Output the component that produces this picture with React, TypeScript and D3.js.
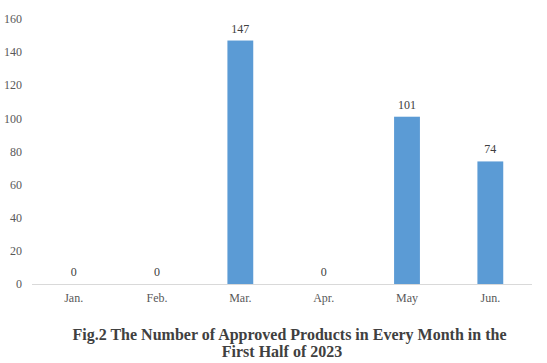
import React, { useRef, useEffect } from 'react';
import * as d3 from 'd3';

const months = ['Jan.', 'Feb.', 'Mar.', 'Apr.', 'May', 'Jun.'];
const approved = [0, 0, 147, 0, 101, 74];
const yTicks = [0, 20, 40, 60, 80, 100, 120, 140, 160];
const titleLines = [
  'Fig.2 The Number of Approved Products in Every Month in the',
  'First Half of 2023',
];

const width = 547;
const height = 363;

const App: React.FC = () => {
  const svgRef = useRef<SVGSVGElement>(null);

  useEffect(() => {
    if (!svgRef.current) return;
    const root = d3.select(svgRef.current);
    root.selectAll('*').remove();

    const margin = { top: 19, right: 15, bottom: 79, left: 32 };
    const innerWidth = width - margin.left - margin.right;
    const innerHeight = height - margin.top - margin.bottom;
    const font = '"Liberation Serif", "Times New Roman", serif';

    const svg = root
      .append('g')
      .attr('transform', `translate(${margin.left},${margin.top})`);

    const xScale = d3.scaleBand().domain(months).range([0, innerWidth]).paddingInner(0.69).paddingOuter(0.345);
    const yScale = d3.scaleLinear().domain([0, 160]).range([innerHeight, 0]);

    // y labels, no axis line
    svg
      .selectAll('.ylab')
      .data(yTicks)
      .enter()
      .append('text')
      .attr('x', -10)
      .attr('y', (d) => yScale(d))
      .attr('dy', '0.35em')
      .attr('text-anchor', 'end')
      .style('font-family', font)
      .style('font-size', '12px')
      .style('fill', '#595959')
      .text((d) => d);

    // baseline
    svg
      .append('line')
      .attr('x1', 0)
      .attr('x2', innerWidth)
      .attr('y1', innerHeight + 0.5)
      .attr('y2', innerHeight + 0.5)
      .attr('stroke', '#d9d9d9')
      .attr('stroke-width', 1);

    // x labels
    svg
      .selectAll('.xlab')
      .data(months)
      .enter()
      .append('text')
      .attr('x', (d) => (xScale(d) as number) + xScale.bandwidth() / 2)
      .attr('y', innerHeight + 18)
      .attr('text-anchor', 'middle')
      .style('font-family', font)
      .style('font-size', '12px')
      .style('fill', '#595959')
      .text((d) => d);

    // bars
    svg
      .selectAll('.bar')
      .data(approved)
      .enter()
      .append('rect')
      .attr('x', (_, i) => xScale(months[i]) as number)
      .attr('width', xScale.bandwidth())
      .attr('y', (d) => yScale(d))
      .attr('height', (d) => innerHeight - yScale(d))
      .attr('fill', '#5b9bd5');

    // value labels
    svg
      .selectAll('.val')
      .data(approved)
      .enter()
      .append('text')
      .attr('x', (_, i) => (xScale(months[i]) as number) + xScale.bandwidth() / 2)
      .attr('y', (d) => yScale(d) - 8)
      .attr('text-anchor', 'middle')
      .style('font-family', font)
      .style('font-size', '12px')
      .style('fill', '#404040')
      .text((d) => d);

    // caption (line 1 a bit right of line 2, as in the figure)
    root
      .selectAll('.title')
      .data(titleLines)
      .enter()
      .append('text')
      .attr('x', (_, i) => (i === 0 ? 289.5 : 282))
      .attr('y', (_, i) => 340 + i * 17)
      .attr('text-anchor', 'middle')
      .style('font-family', font)
      .style('font-size', '16px')
      .style('font-weight', 'bold')
      .style('fill', '#404040')
      .text((d) => d);
  }, []);

  return (
    <div style={{ position: 'absolute', left: 0, top: 0 }}>
      <svg ref={svgRef} width={width} height={height} style={{ display: 'block', background: '#fff' }}></svg>
    </div>
  );
};

export default App;
